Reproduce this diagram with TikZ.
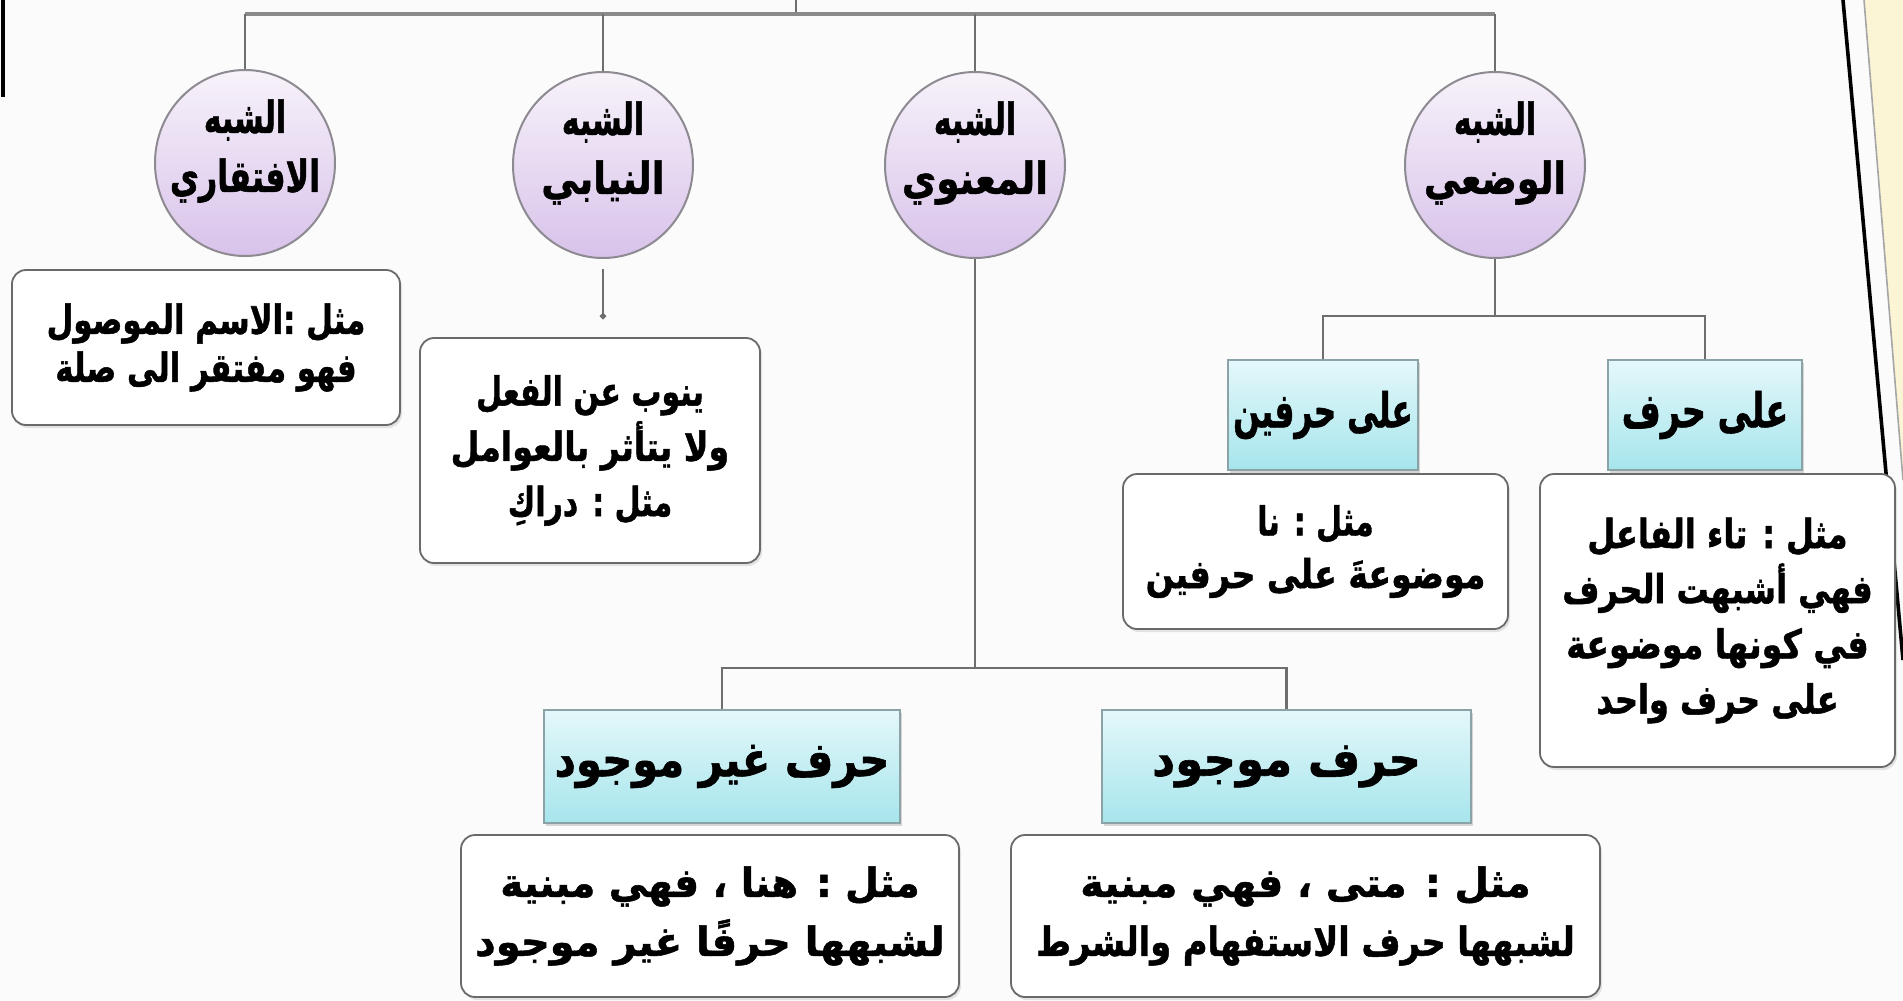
\documentclass[tikz,border=0pt]{standalone}
\usepackage{fontspec}
\usepackage{graphicx}
\usetikzlibrary{shapes.geometric,shadows,arrows.meta}
\TeXXeTstate=1
\newfontfamily\arabicfont[Script=Arabic, BoldFeatures={FakeBold=1.3}]{DejaVu Sans}
\newcommand{\ARx}[2]{\scalebox{#1}[1]{#2}}
\definecolor{bgc}{HTML}{FBFBFB}
\definecolor{linec}{HTML}{6E6E6E}
\definecolor{barc}{HTML}{8A8A8A}
\definecolor{circtop}{HTML}{F7F2FA}
\definecolor{circbot}{HTML}{D8C2EA}
\definecolor{circbd}{HTML}{8E8A92}
\definecolor{cyantop}{HTML}{E4F8FA}
\definecolor{cyanbot}{HTML}{A6E5EC}
\definecolor{cyanbd}{HTML}{8BA3A6}
\definecolor{boxbd}{HTML}{6A6A6A}
\definecolor{paleyel}{HTML}{FBF5D6}
\begin{document}
\begin{tikzpicture}[x=0.5pt,y=-0.5pt,
  circ/.style={ellipse, draw=circbd, line width=1pt, top color=circtop, bottom color=circbot,
    minimum width=90pt, minimum height=93pt, inner sep=0pt},
  ctext/.style={align=center, inner sep=0pt, font=\arabicfont\bfseries\fontsize{22}{29.5}\selectfont},
  cyanbox/.style={rectangle, draw=cyanbd, line width=0.9pt, top color=cyantop, bottom color=cyanbot,
    inner sep=0pt, align=center, font=\arabicfont\bfseries\fontsize{24}{30}\selectfont,
    drop shadow={opacity=0.3, shadow xshift=0.8pt, shadow yshift=-1.5pt}},
  wbox/.style={rectangle, rounded corners=7pt, draw=boxbd, line width=0.9pt, fill=white,
    inner sep=0pt, align=center, font=\arabicfont\bfseries\fontsize{20}{27.6}\selectfont,
    drop shadow={opacity=0.2, shadow xshift=1pt, shadow yshift=-1.5pt}},
  fsmall/.style={font=\arabicfont\bfseries\fontsize{20}{24}\selectfont},
  fnine/.style={font=\arabicfont\bfseries\fontsize{20}{26.4}\selectfont},
  fwide/.style={font=\arabicfont\bfseries\fontsize{20}{29.5}\selectfont},
  conn/.style={draw=linec, line width=1.1pt},
  barline/.style={draw=barc, line width=2.4pt}]
\path[use as bounding box, fill=bgc] (0,0) rectangle (1903,1001);
% right page edge
\fill[paleyel] (1864,0) -- (1903,0) -- (1903,480) -- cycle;
\draw[draw=gray!70, line width=0.8pt] (1864,0) -- (1903,480);
\draw[black, line width=1.8pt] (1843,0) -- (1903,660);
\draw[black, line width=1.8pt] (3,0) -- (3,97);

% circles
\node[circ] (C1) at (245,163) {};
\node[circ] (C2) at (603,165) {};
\node[circ] (C3) at (975,165) {};
\node[circ] (C4) at (1495,165) {};
\node[ctext] (C1t) at ([yshift=6pt]C1.center) {\ARx{0.68}{\beginR الشبه\endR}\\\ARx{0.72}{\beginR الافتقاري\endR}};
\node[ctext] (C2t) at ([yshift=6pt]C2.center) {\ARx{0.68}{\beginR الشبه\endR}\\\ARx{0.85}{\beginR النيابي\endR}};
\node[ctext] (C3t) at ([yshift=6pt]C3.center) {\ARx{0.68}{\beginR الشبه\endR}\\\ARx{0.85}{\beginR المعنوي\endR}};
\node[ctext] (C4t) at ([yshift=6pt]C4.center) {\ARx{0.68}{\beginR الشبه\endR}\\\ARx{0.83}{\beginR الوضعي\endR}};

% boxes
\node[wbox, fsmall, minimum width=194pt, minimum height=77.5pt] (B1) at (206,347.5)
  {\ARx{0.77}{\beginR مثل :الاسم الموصول\endR}\\\ARx{0.77}{\beginR فهو مفتقر الى صلة\endR}};
\node[wbox, minimum width=170pt, minimum height=112.5pt] (B2) at (590,450.5)
  {\ARx{0.75}{\beginR ينوب عن الفعل\endR}\\\ARx{0.83}{\beginR ولا يتأثر بالعوامل\endR}\\\ARx{0.75}{\beginR مثل : دراكِ\endR}};
\node[cyanbox, minimum width=178pt, minimum height=56.5pt] (B3) at (722,766.5)
  {\ARx{0.87}{\beginR حرف غير موجود\endR}};
\node[cyanbox, minimum width=184.5pt, minimum height=56.5pt] (B4) at (1286.5,766.5)
  {\ARx{0.94}{\beginR حرف موجود\endR}};
\node[wbox, fwide, minimum width=249pt, minimum height=81pt] (B5) at (710,916)
  {\ARx{0.97}{\beginR مثل : هنا ، فهي مبنية\endR}\\\ARx{1}{\beginR لشبهها حرفًا غير موجود\endR}};
\node[wbox, fwide, minimum width=294.5pt, minimum height=81pt] (B6) at (1305.5,916)
  {\ARx{0.99}{\beginR مثل : متى ، فهي مبنية\endR}\\\ARx{0.84}{\beginR لشبهها حرف الاستفهام والشرط\endR}};
\node[cyanbox, minimum width=95pt, minimum height=55pt] (B7) at (1323,415)
  {\ARx{0.65}{\beginR على حرفين\endR}};
\node[cyanbox, minimum width=97pt, minimum height=55pt] (B8) at (1705,415)
  {\ARx{0.7}{\beginR على حرف\endR}};
\node[wbox, fnine, minimum width=192.5pt, minimum height=77.5pt] (B9) at (1315.5,551.5)
  {\ARx{0.75}{\beginR مثل : نا\endR}\\\ARx{0.83}{\beginR موضوعةَ على حرفين\endR}};
\node[wbox, minimum width=177.5pt, minimum height=146.5pt] (B10) at (1717.5,620.5)
  {\ARx{0.8}{\beginR مثل : تاء الفاعل\endR}\\\ARx{0.8}{\beginR فهي أشبهت الحرف\endR}\\\ARx{0.83}{\beginR في كونها موضوعة\endR}\\\ARx{0.8}{\beginR على حرف واحد\endR}};

% top bar
\coordinate (top) at (796,0);
\coordinate (tj) at (796,14);
\draw[conn] (top) -- (tj);
\draw[barline] (C1.north |- tj) -- (C4.north |- tj);
\foreach \c in {C1,C2,C3,C4} \draw[conn] (\c.north |- tj) -- (\c.north);

% C2 -> B2 short stub
\draw[conn, shorten <=5pt, shorten >=9pt, -{Circle[length=3pt]}] (C2.south) -- (C2.south |- B2.north);

% C3 -> B3, B4
\coordinate (j3) at (975,668);
\draw[conn] (C3.south) -- (j3);
\draw[conn] (B3.north) |- (j3) -| (B4.north);

% C4 -> B7, B8
\coordinate (j4) at (1495,316);
\draw[conn] (C4.south) -- (j4);
\draw[conn] (B7.north) |- (j4) -| (B8.north);
\end{tikzpicture}
\end{document}
